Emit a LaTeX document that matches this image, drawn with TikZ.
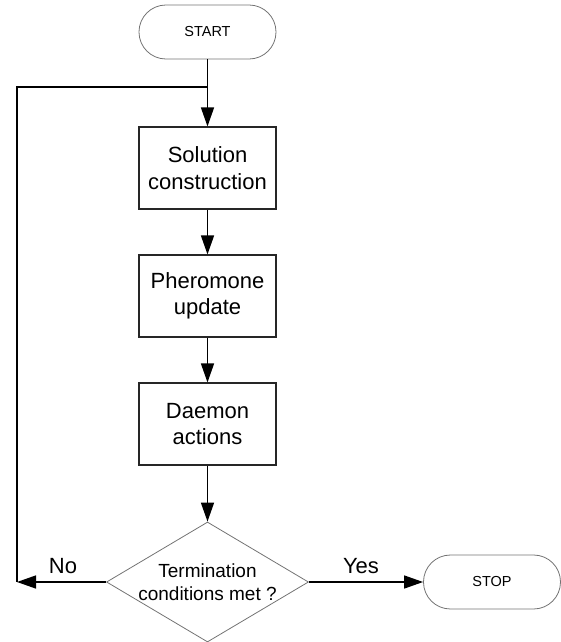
\documentclass[tikz,border=0pt]{standalone}
\usepackage{fontspec}
\setmainfont{Liberation Sans}
\usetikzlibrary{arrows.meta,shapes.geometric}
\begin{document}
\begin{tikzpicture}[x=1pt,y=-1pt,
  proc/.style={draw=black!85, line width=1.1pt, minimum width=137pt, minimum height=82pt,
    align=center, inner sep=0pt, font=\fontsize{22}{26.5}\selectfont},
  term/.style={draw=black!55, line width=0.8pt, rounded corners=26.9pt, minimum width=137pt,
    minimum height=54pt, inner sep=0pt, font=\fontsize{14.5}{17}\selectfont},
  decision/.style={shape=diamond, draw=black!55, line width=0.8pt, minimum width=202pt,
    minimum height=120pt, inner sep=0pt},
  dtext/.style={align=center, inner sep=0pt, font=\fontsize{19}{22.5}\selectfont},
  lbl/.style={inner sep=0pt, font=\fontsize{22}{26}\selectfont},
  conn/.style={draw=black, line width=1.4pt},
  arr/.style={conn, -{Triangle[length=19pt 0,width=13pt 0]}}]
\useasboundingbox (0,0) rectangle (561,642);
\node[term] (start) at (207.5,32) {START};
\node[proc] (sol) at (207.5,168) {Solution\\construction};
\node[proc] (pher) at (207.5,296) {Pheromone\\update};
\node[proc] (daem) at (207.5,424) {Daemon\\actions};
\node[decision] (dec) at (207.5,582) {};
\node[dtext] (dect) at (dec.center) {Termination\\conditions met ?};
\node[term] (stop) at (492,582) {STOP};
\node[lbl] (no) at (63,566) {No};
\node[lbl] (yes) at (361,566) {Yes};
\coordinate (j) at (207.5,87);
\coordinate (lc) at (17,87);
\coordinate (bc) at (17,582);
\draw[arr] (start) -- (sol);
\draw[arr] (sol) -- (pher);
\draw[arr] (pher) -- (daem);
\draw[arr] (daem) -- (dec);
\draw[conn] (j) -- (lc) -- (bc);
\draw[arr] (dec.west) -- (bc);
\draw[arr] (dec.east) -- (stop.west);
\end{tikzpicture}
\end{document}
